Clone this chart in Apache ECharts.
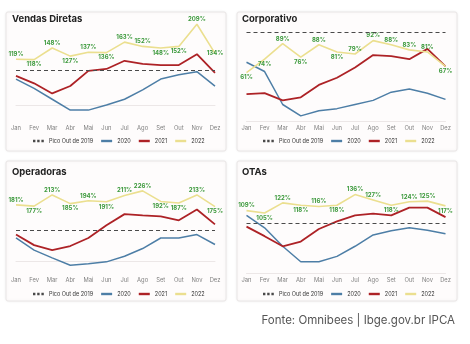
<!DOCTYPE html>
<html>
<head>
<meta charset="utf-8">
<script src="https://cdn.jsdelivr.net/npm/echarts@6/dist/echarts.min.js"></script>
<style>
  html, body { margin: 0; padding: 0; background: #ffffff; }
  #chart { width: 470px; height: 344px; }
</style>
</head>
<body>
<div id="chart"></div>
<script>
// Monthly occupancy index by channel, 2020-2022, against the October 2019 peak
const months = ['Jan', 'Fev', 'Mar', 'Abr', 'Mai', 'Jun', 'Jul', 'Ago', 'Set', 'Out', 'Nov', 'Dez'];
const panelTitles = ['Vendas Diretas', 'Corporativo', 'Operadoras', 'OTAs'];
const refName = 'Pico Out de 2019';
const yearNames = ['2020', '2021', '2022'];

const vendasDiretas2020 = [68, 44, 16, -12, -12, 1, 16, 40, 68, 79, 87, 50];
const vendasDiretas2021 = [76, 57, 31, 50, 89, 94, 115, 107, 104, 104, 132, 84];
const vendasDiretas2022 = [119, 118, 148, 127, 137, 136, 163, 152, 148, 152, 209, 134];

const corporativo2020 = [71, 62, 30, 19, 24, 26, 30, 34, 42, 45, 41, 35];
const corporativo2021 = [40, 41, 34, 37, 49, 56, 66, 78, 77, 74, 84, 67];
const corporativo2022 = [61, 74, 89, 76, 88, 81, 79, 92, 88, 83, 81, 67];

const operadoras2020 = [74, 35, 10, -14, -9, -3, 15, 40, 74, 74, 85, 53];
const operadoras2021 = [85, 51, 35, 48, 74, 115, 151, 147, 144, 131, 166, 118];
const operadoras2022 = [181, 177, 213, 185, 194, 191, 211, 226, 192, 187, 213, 175];

const otas2020 = [101, 80, 49, 23, 23, 32, 49, 68, 75, 80, 76, 70];
const otas2021 = [82, 66, 49, 57, 78, 91, 101, 104, 101, 114, 114, 98];
const otas2022 = [109, 105, 122, 118, 116, 118, 136, 127, 118, 124, 125, 117];

// October 2019 peak level for each channel
const picoOut2019 = [91, 100, 100, 88];

const panelData = [
  [vendasDiretas2020, vendasDiretas2021, vendasDiretas2022],
  [corporativo2020, corporativo2021, corporativo2022],
  [operadoras2020, operadoras2021, operadoras2022],
  [otas2020, otas2021, otas2022]
];

// ---- layout & styling ----
const colors = { y2020: '#4d7ea6', y2021: '#ad2226', y2022: '#ebdf8f', ref: '#4a4a4a', label: '#3d9a3d' };
const fontFamily = 'Inter, "Open Sans", sans-serif';
const dotsIcon = 'path://M0,0h2v2h-2zM3.5,0h2v2h-2zM7,0h2v2h-2z';

const layout = [
  { card: [6, 12, 220, 139], grid: { left: 16, top: 20, width: 199, height: 101 }, yMin: -40, yMax: 220,
    titleX: 12, titleY: 14, legendX: 33, legendY: 138,
    labelPos: ['top', 'bottom', 'top', 'bottom', 'top', 'bottom', 'top', 'top', 'bottom', 'bottom', 'top', 'inside'] },
  { card: [237, 12, 220, 139], grid: { left: 246.5, top: 20, width: 199, height: 101 }, yMin: 14, yMax: 112,
    titleX: 242, titleY: 14, legendX: 263, legendY: 138,
    labelPos: ['bottom', 'bottom', 'top', 'bottom', 'top', 'bottom', 'top', 'top', 'top', 'top', 'top', 'bottom'] },
  { card: [6, 161, 220, 140], grid: { left: 16, top: 172, width: 199, height: 101 }, yMin: -39, yMax: 287,
    titleX: 12, titleY: 167, legendX: 33, legendY: 291,
    labelPos: ['top', 'bottom', 'top', 'bottom', 'top', 'bottom', 'top', 'top', 'bottom', 'bottom', 'top', 'bottom'] },
  { card: [237, 161, 220, 140], grid: { left: 246.5, top: 172, width: 199, height: 101 }, yMin: 4, yMax: 174,
    titleX: 242, titleY: 167, legendX: 263, legendY: 291,
    labelPos: ['top', 'bottom', 'top', 'bottom', 'top', 'bottom', 'top', 'top', 'bottom', 'top', 'top', 'bottom'] }
];

const grids = [], xAxes = [], yAxes = [], titles = [], legends = [], series = [], cards = [];

layout.forEach((L, p) => {
  cards.push({
    type: 'rect', z: -10,
    shape: { x: L.card[0], y: L.card[1], width: L.card[2], height: L.card[3], r: 2 },
    style: { fill: '#fefcfc', stroke: '#e9e6e6', lineWidth: 1, shadowBlur: 3, shadowColor: 'rgba(0,0,0,0.06)' }
  });

  grids.push(Object.assign({ containLabel: false }, L.grid));

  xAxes.push({
    type: 'category', gridIndex: p, data: months, boundaryGap: false,
    axisLine: { lineStyle: { color: '#ece7e7', width: 1 } },
    axisTick: { show: false },
    axisLabel: { fontSize: 5.8, color: '#808080', margin: 4, fontFamily, interval: 0 },
    splitLine: { show: false }
  });

  yAxes.push({ type: 'value', gridIndex: p, min: L.yMin, max: L.yMax, show: false, splitLine: { show: false } });

  titles.push({
    text: panelTitles[p], left: L.titleX, top: L.titleY, padding: 0,
    textStyle: { fontSize: 9.5, fontWeight: 'bold', color: '#222', fontFamily }
  });

  legends.push({
    left: L.legendX, top: L.legendY, padding: 0, itemGap: 8, itemWidth: 11, itemHeight: 2.4,
    textStyle: { fontSize: 5.5, color: '#333', fontFamily },
    selectedMode: false,
    data: [
      { name: refName, icon: dotsIcon, itemStyle: { color: colors.ref } },
      { name: yearNames[0], icon: 'rect' },
      { name: yearNames[1], icon: 'rect' },
      { name: yearNames[2], icon: 'rect' }
    ]
  });

  // reference level (dashed)
  series.push({
    name: refName, type: 'line', xAxisIndex: p, yAxisIndex: p, data: [], symbol: 'none',
    lineStyle: { type: [4, 3], width: 1, color: colors.ref },
    itemStyle: { color: colors.ref },
    markLine: {
      silent: true, symbol: 'none', label: { show: false }, animation: false,
      lineStyle: { type: [4, 3], width: 1, color: colors.ref },
      data: [{ yAxis: picoOut2019[p] }]
    }
  });

  const [v2020, v2021, v2022] = panelData[p];
  series.push({
    name: yearNames[0], type: 'line', xAxisIndex: p, yAxisIndex: p, data: v2020,
    symbol: 'none', lineStyle: { width: 1.5, color: colors.y2020 }, itemStyle: { color: colors.y2020 }
  });
  series.push({
    name: yearNames[1], type: 'line', xAxisIndex: p, yAxisIndex: p, data: v2021,
    symbol: 'none', lineStyle: { width: 1.8, color: colors.y2021 }, itemStyle: { color: colors.y2021 }
  });
  series.push({
    name: yearNames[2], type: 'line', xAxisIndex: p, yAxisIndex: p,
    data: v2022.map((v, i) => ({ value: v, label: { position: L.labelPos[i] } })),
    symbol: 'circle', symbolSize: 0, showSymbol: true,
    lineStyle: { width: 1.6, color: colors.y2022 }, itemStyle: { color: colors.y2022 },
    label: {
      show: true, formatter: '{c}%', fontSize: 6, fontWeight: 'bold',
      color: colors.label, distance: 2, fontFamily
    },
    labelLayout: { hideOverlap: false }
  });
});

const chart = echarts.init(document.getElementById('chart'), null, { renderer: 'canvas' });
chart.setOption({
  backgroundColor: '#ffffff',
  animation: false,
  title: titles,
  legend: legends,
  grid: grids,
  xAxis: xAxes,
  yAxis: yAxes,
  series: series,
  graphic: cards.concat([{
    type: 'text', right: 15, top: 315, z: 10,
    style: { text: 'Fonte: Omnibees | Ibge.gov.br IPCA', fontSize: 11.5, fill: '#555', fontFamily }
  }])
});
</script>
</body>
</html>
